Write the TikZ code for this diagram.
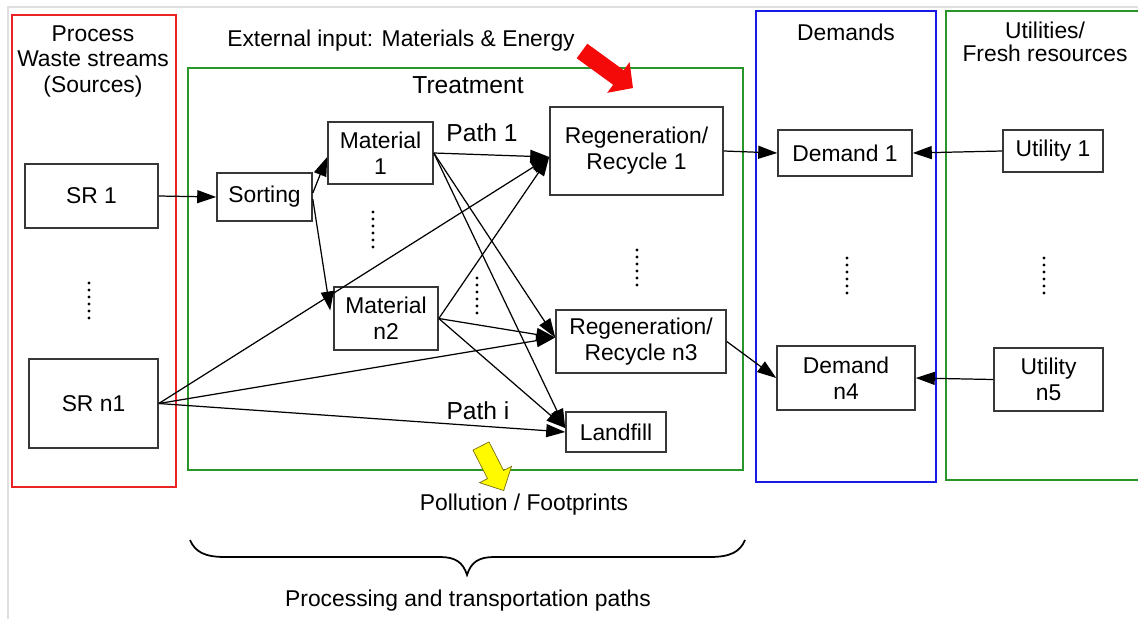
\documentclass[tikz,border=0pt]{standalone}
\usepackage{fontspec}
\setmainfont{Liberation Sans}
\usetikzlibrary{arrows.meta}
\definecolor{framered}{RGB}{235,35,35}
\definecolor{framegreen}{RGB}{40,150,40}
\definecolor{frameblue}{RGB}{25,25,230}
\definecolor{boxline}{RGB}{55,55,55}
\definecolor{arrowred}{RGB}{245,10,10}
\definecolor{arrowyellow}{RGB}{255,250,0}
\definecolor{arrowolive}{RGB}{120,110,20}

\begin{document}
\begin{tikzpicture}[x=0.02cm,y=-0.02cm,
  font=\fontsize{13pt}{14.7pt}\selectfont,
  box/.style={draw=boxline, line width=0.9pt, align=center, inner sep=0pt},
  sz/.style 2 args={minimum width=#1*0.02cm, minimum height=#2*0.02cm},
  frame/.style={line width=1.4pt},
  flow/.style={line width=0.7pt, -{Triangle[length=0.38cm,width=0.26cm]}},
  vdots/.style={line width=0.065cm, dash pattern=on 0pt off 0.14cm, line cap=round},
  lbl/.style={align=center, inner sep=0pt},
  biglbl/.style={lbl, font=\fontsize{14pt}{16pt}\selectfont}
]
\useasboundingbox (0,0) rectangle (1138,619);

% faint page edge
\draw[gray!25, line width=0.8pt] (8,619) -- (8,7) -- (1138,7);

% group frames
\draw[frame, framered]   (12,15)  rectangle (176,487);
\draw[frame, framegreen] (188,68) rectangle (743,470);
\draw[frame, frameblue]  (756,11) rectangle (936,482);
\draw[frame, framegreen] (946,11) rectangle (1160,480);

% group titles
\node[lbl] (srctitle) at (93,61.5) {Process\\Waste streams\\(Sources)};
\node[lbl] (extin) at (401,41) {External input: Materials \& Energy};
\node[biglbl] (treat) at (468,85) {Treatment};
\node[lbl] (demtitle) at (846,32) {Demands};
\node[lbl, font=\fontsize{13pt}{13.2pt}\selectfont] (utititle) at (1045,41.5) {Utilities/\\Fresh resources};
\node[lbl] (pollu) at (524,505) {Pollution / Footprints};
\node[lbl] (procpaths) at (468,601) {Processing and transportation paths};

% boxes
\node[box, sz={133}{64}] (sr1)  at (91.5,196)   {SR 1};
\node[box, sz={129}{89}] (srn1) at (93.5,403.5) {SR n1};
\node[box, sz={95}{48}]  (sort) at (264.5,197)  {Sorting};
\node[box, sz={105}{62}] (mat1) at (380.5,153)  {Material\\1};
\node[box, sz={104}{63}] (mat2) at (386,318.5)  {Material\\n2};
\node[box, sz={173}{88}] (reg1) at (636.5,151)  {Regeneration/\\Recycle 1};
\node[box, sz={170}{63}] (reg3) at (641,341.5)  {Regeneration/\\Recycle n3};
\node[box, sz={100}{40}] (land) at (616,432)    {Landfill};
\node[box, sz={134}{46}] (dem1) at (845,153)    {Demand 1};
\node[box, sz={138}{64}] (dem4) at (846,378)    {Demand\\n4};
\node[box, sz={100}{42}] (uti1) at (1053,151)   {Utility 1};
\node[box, sz={109}{63}] (uti5) at (1048.5,379.5) {Utility\\n5};

% path labels
\node[biglbl] (path1) at (482,133) {Path 1};
\node[biglbl] (pathi) at (478,411) {Path i};

% "and so on" dots
\draw[vdots] (89,283)   -- (89,321);
\draw[vdots] (373,212)  -- (373,250);
\draw[vdots] (477,278)  -- (477,317);
\draw[vdots] (637,250)  -- (637,288);
\draw[vdots] (847,258)  -- (847,297);
\draw[vdots] (1044,258) -- (1044,297);

% flows
\draw[flow] (sr1.east) -- (sort.west);
\draw[flow] ([yshift=0.08cm]sort.east) -- ([yshift=-0.08cm]mat1.west);
\draw[flow] ([yshift=-0.04cm]sort.east) -- ([xshift=-0.06cm,yshift=0.16cm]mat2.west);

\draw[flow] (mat1.east) -- ([yshift=-0.12cm]reg1.west);
\draw[flow] (mat1.east) -- ([yshift=0.08cm]reg3.west);
\draw[flow] (mat1.east) -- ([yshift=0.08cm]land.west);

\draw[flow] (mat2.east) -- ([yshift=-0.12cm]reg1.west);
\draw[flow] (mat2.east) -- ([yshift=0.08cm]reg3.west);
\draw[flow] (mat2.east) -- ([yshift=0.08cm]land.west);

\draw[flow] (srn1.east) -- ([yshift=-0.12cm]reg1.west);
\draw[flow] (srn1.east) -- ([yshift=0.08cm]reg3.west);
\draw[flow] (srn1.east) -- (land.west);

\draw[flow] (reg1.east) -- (dem1.west);
\draw[flow] (reg3.east) -- (dem4.west);
\draw[flow] (uti1.west) -- (dem1.east);
\draw[flow] (uti5.west) -- (dem4.east);

% input arrow (materials & energy)
\begin{scope}[shift={(582,51)}, rotate=-36]
  \fill[arrowred] (0,-9) -- (45,-9) -- (45,-19) -- (63,0) -- (45,19) -- (45,9) -- (0,9) -- cycle;
\end{scope}

% output arrow (pollution)
\begin{scope}[shift={(481,446)}, rotate=-63]
  \filldraw[fill=arrowyellow, draw=arrowolive, line width=0.4pt]
    (0,-9) -- (32,-9) -- (32,-18) -- (50,0) -- (32,18) -- (32,9) -- (0,9) -- cycle;
\end{scope}

% brace under the treatment block
\draw[line width=1pt]
  (190,540) .. controls (195,552) and (205,557) .. (225,557)
  -- (440,557) .. controls (455,557) and (463,562) .. (467,575)
  .. controls (471,562) and (479,557) .. (494,557)
  -- (710,557) .. controls (730,557) and (740,552) .. (745,540);
\end{tikzpicture}
\end{document}
